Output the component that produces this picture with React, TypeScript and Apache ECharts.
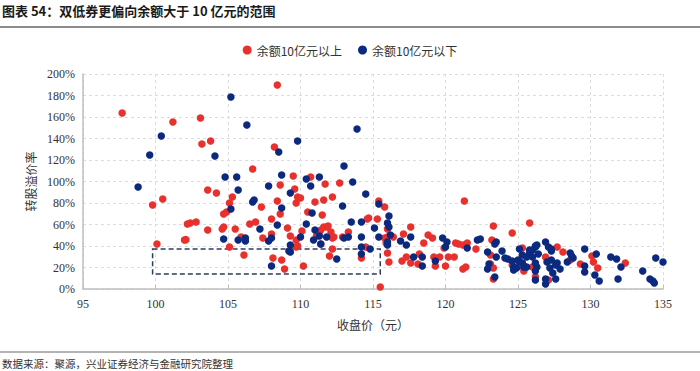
import React, { useEffect, useRef } from "react";
import * as echarts from "echarts";

const TITLE = "图表 54：双低券更偏向余额大于 10 亿元的范围";
const SOURCE = "数据来源：聚源，兴业证券经济与金融研究院整理";
const SERIES_NAMES = ["余额10亿元以上", "余额10亿元以下"];
const X_NAME = "收盘价（元）";
const Y_NAME = "转股溢价率";

// [收盘价, 转股溢价率%]
const largeBalance: [number, number][] = [
  [97.7, 163.7], [99.8, 78.1], [100.5, 83.7], [100.1, 41.9], [101.2, 155.3], [103.1, 159.1],
  [103.2, 134.9], [103.8, 137.7], [108.4, 189.8], [106.7, 111.6], [108.2, 132.1], [109.5, 105.1],
  [103.6, 92.1], [104.2, 89.3], [108.6, 96.7], [105.3, 85.6], [105.1, 80.0], [108.4, 81.9],
  [107.3, 76.3], [109.7, 80.0], [109.8, 85.6], [104.9, 71.6], [104.7, 69.8], [108.6, 69.8],
  [108.0, 65.1], [102.8, 62.3], [102.4, 61.4], [102.2, 60.5], [103.6, 54.9], [104.6, 55.8],
  [104.7, 57.7], [105.5, 55.8], [106.5, 60.5], [106.9, 62.3], [109.1, 56.7], [108.0, 51.2],
  [107.4, 47.4], [109.3, 49.3], [105.9, 48.4], [102.0, 45.6], [102.1, 45.9], [105.1, 39.1],
  [106.1, 31.6], [109.8, 40.0], [108.1, 28.8], [108.7, 27.0], [108.9, 18.6], [110.7, 104.2],
  [109.6, 93.0], [110.0, 84.7], [111.7, 97.7], [112.7, 98.6], [112.2, 85.6], [111.6, 82.8],
  [111.0, 80.9], [115.8, 76.3], [110.5, 71.6], [111.5, 68.8], [114.6, 65.1], [114.7, 66.0],
  [115.3, 65.1], [110.1, 54.0], [111.6, 57.7], [111.8, 57.7], [111.9, 58.6], [111.4, 54.9],
  [112.1, 53.0], [116.0, 55.8], [109.7, 45.6], [111.1, 49.3], [111.4, 41.9], [112.3, 48.4],
  [112.9, 48.4], [113.3, 53.0], [115.8, 47.4], [114.5, 39.1], [112.2, 37.2], [109.7, 39.1],
  [114.2, 28.8], [112.0, 30.7], [110.2, 21.4], [115.5, 1.9], [115.4, 81.9], [116.0, 48.4],
  [116.0, 33.5], [116.1, 25.1], [116.4, 48.4], [117.1, 51.2], [117.6, 57.7], [117.0, 26.0],
  [117.3, 29.8], [117.6, 24.2], [118.1, 23.3], [118.2, 32.6], [118.5, 42.8], [118.8, 50.2],
  [119.1, 47.4], [119.2, 29.8], [119.3, 21.4], [119.6, 29.8], [119.9, 38.1], [120.0, 21.4],
  [120.2, 29.8], [120.6, 29.8], [120.7, 42.8], [120.9, 41.9], [121.2, 40.9], [121.3, 81.9],
  [121.2, 18.6], [121.4, 20.5], [122.1, 37.2], [123.2, 45.6], [123.3, 58.6], [124.6, 52.1],
  [125.8, 61.4], [123.1, 23.3], [123.3, 19.5], [123.3, 9.3], [125.3, 38.1], [125.4, 19.5],
  [121.5, 42.8], [123.1, 31.6], [124.6, 22.3], [125.3, 24.2], [125.4, 16.7], [126.2, 11.5],
  [126.9, 29.8], [127.1, 8.4], [127.7, 39.1], [128.1, 34.4], [128.6, 27.0], [129.3, 23.3],
  [130.1, 30.7], [130.2, 25.1], [130.5, 19.5], [132.4, 24.2], [126.0, 20.5], [115.9, 42.8],
  [111.3, 53.0], [112.2, 47.4],
];

const smallBalance: [number, number][] = [
  [98.8, 94.9], [99.6, 124.7], [100.4, 142.3], [105.2, 178.6], [104.1, 123.7], [106.3, 152.6],
  [108.5, 127.4], [104.8, 104.2], [105.6, 104.2], [108.7, 106.0], [109.8, 137.7], [113.9, 148.8],
  [113.0, 114.4], [107.8, 95.8], [109.3, 89.3], [105.7, 92.1], [106.8, 82.8], [106.7, 80.9],
  [108.7, 75.3], [105.2, 74.4], [108.4, 59.5], [107.2, 55.8], [104.7, 46.5], [105.7, 45.6],
  [106.2, 47.4], [106.2, 44.7], [107.8, 44.7], [108.0, 47.4], [109.3, 40.9], [109.3, 34.4],
  [108.0, 21.4], [110.4, 102.3], [111.3, 104.2], [110.7, 95.8], [113.6, 99.5], [114.5, 88.4],
  [112.9, 77.2], [115.4, 79.1], [110.8, 70.7], [113.5, 62.3], [114.2, 62.3], [110.4, 60.5],
  [111.0, 54.9], [115.1, 56.7], [110.0, 48.4], [110.9, 45.6], [111.3, 49.3], [111.8, 48.4],
  [113.0, 47.4], [113.3, 48.4], [114.2, 48.4], [115.4, 48.4], [114.8, 37.2], [114.2, 39.1],
  [111.4, 41.9], [109.2, 35.3], [114.2, 32.6], [112.5, 27.9], [116.1, 67.9], [116.0, 61.4],
  [116.1, 57.7], [116.2, 50.2], [116.0, 43.7], [116.0, 40.9], [116.9, 44.7], [117.3, 40.9],
  [117.6, 48.4], [117.8, 29.8], [118.4, 29.8], [118.4, 21.4], [119.3, 26.0], [119.8, 47.4],
  [120.1, 43.7], [120.0, 39.1], [121.5, 38.1], [122.2, 45.6], [122.4, 46.5], [122.9, 34.4],
  [123.0, 23.3], [123.5, 43.7], [123.4, 41.9], [123.5, 29.8], [122.9, 18.6], [123.4, 11.2],
  [123.9, 35.3], [124.1, 28.8], [124.3, 27.9], [124.6, 26.0], [124.7, 20.5], [124.9, 19.5],
  [125.1, 37.2], [125.3, 31.6], [125.3, 24.2], [125.4, 20.5], [125.6, 29.8], [126.0, 29.8],
  [126.2, 39.1], [126.3, 40.9], [126.0, 36.3], [126.2, 24.2], [126.2, 16.7], [126.2, 8.4],
  [124.7, 17.7], [125.0, 27.0], [125.1, 25.1], [125.5, 20.5], [125.6, 20.5], [125.8, 36.3],
  [125.8, 33.5], [126.2, 40.0], [126.4, 32.6], [126.3, 20.5], [126.9, 43.7], [127.1, 39.1],
  [127.3, 37.2], [127.3, 35.3], [127.0, 25.1], [127.2, 19.5], [127.3, 27.0], [127.6, 22.3],
  [127.7, 24.2], [127.4, 14.9], [127.6, 9.3], [126.9, 9.3], [126.9, 4.7], [127.9, 18.6],
  [128.6, 33.5], [128.7, 30.7], [128.8, 28.8], [128.4, 25.1], [129.6, 37.2], [129.6, 21.4],
  [129.6, 15.8], [130.4, 32.6], [130.3, 13.0], [130.6, 7.4], [131.4, 29.8], [131.8, 27.9],
  [132.1, 20.5], [131.9, 9.3], [133.6, 16.7], [134.1, 9.3], [134.3, 7.4], [134.4, 5.6],
  [134.5, 28.8], [135.0, 25.1],
];

// dashed highlight box: [x from, y top %] -> [x to, y bottom %]
const boxFrom: [number, number] = [99.8, 37.2];
const boxTo: [number, number] = [115.5, 14.0];

const RED = "#E8302C";
const BLUE = "#0B2A7F";
const SERIF = "'Liberation Serif', 'Noto Serif CJK SC', serif";
const CJK = "'Noto Sans CJK SC', sans-serif";

export default function App() {
  const ref = useRef<HTMLDivElement>(null);
  useEffect(() => {
    if (!ref.current) return;
    const chart = echarts.init(ref.current, null, { renderer: "svg" });
    chart.setOption({
      animation: false,
      backgroundColor: "#ffffff",
      graphic: [
        {
          type: "text",
          left: 2,
          top: 4,
          style: { text: TITLE, font: `bold 13px ${CJK}`, fill: "#1a1a1a" },
        },
        {
          type: "line",
          shape: { x1: 0, y1: 27, x2: 700, y2: 27 },
          style: { stroke: "#8c8c8c", lineWidth: 2 },
        },
        {
          type: "line",
          shape: { x1: 0, y1: 352, x2: 700, y2: 352 },
          style: { stroke: "#9a9a9a", lineWidth: 1.5 },
        },
        {
          type: "text",
          left: 2,
          top: 358,
          style: { text: SOURCE, font: `10.5px ${CJK}`, fill: "#333" },
        },
      ],
      legend: {
        top: 39,
        left: "center",
        itemWidth: 9,
        itemHeight: 9,
        itemGap: 16,
        icon: "circle",
        textStyle: { fontFamily: CJK, fontSize: 12, color: "#333" },
        data: SERIES_NAMES,
      },
      grid: { left: 83, right: 37, top: 74, bottom: 82 },
      xAxis: {
        type: "value",
        min: 95,
        max: 135,
        interval: 5,
        name: X_NAME,
        nameLocation: "middle",
        nameGap: 29,
        nameTextStyle: { fontFamily: CJK, fontSize: 12, color: "#333" },
        axisLine: { show: true, lineStyle: { color: "#bfbfbf", width: 1.5 } },
        axisTick: { show: true, inside: true, length: 4, lineStyle: { color: "#bfbfbf" } },
        axisLabel: { fontFamily: SERIF, fontSize: 12, color: "#333", margin: 9 },
        splitLine: { show: true, lineStyle: { color: "#dcdcdc", type: [3, 3] } },
      },
      yAxis: {
        type: "value",
        min: 0,
        max: 200,
        interval: 20,
        name: Y_NAME,
        nameLocation: "middle",
        nameGap: 44,
        nameRotate: 90,
        nameTextStyle: { fontFamily: CJK, fontSize: 12, color: "#333" },
        axisLine: { show: true, lineStyle: { color: "#bfbfbf", width: 1.5 } },
        axisTick: { show: false },
        axisLabel: { fontFamily: SERIF, fontSize: 12, color: "#333", formatter: "{value}%", margin: 8 },
        splitLine: { show: true, lineStyle: { color: "#dcdcdc", type: [3, 3] } },
      },
      series: [
        {
          name: SERIES_NAMES[0],
          type: "scatter",
          symbolSize: 7.5,
          itemStyle: { color: RED, opacity: 1 },
          data: largeBalance,
          markArea: {
            silent: true,
            itemStyle: {
              color: "rgba(0,0,0,0)",
              borderColor: "#2E3D5F",
              borderWidth: 1.5,
              borderType: [5, 3],
            },
            data: [[{ coord: boxFrom }, { coord: boxTo }]],
          },
        },
        {
          name: SERIES_NAMES[1],
          type: "scatter",
          symbolSize: 7.5,
          itemStyle: { color: BLUE, opacity: 1 },
          data: smallBalance,
        },
      ],
    });
    return () => chart.dispose();
  }, []);
  return (
    <div
      ref={ref}
      style={{ position: "fixed", left: 0, top: 0, width: 700, height: 371 }}
    />
  );
}
